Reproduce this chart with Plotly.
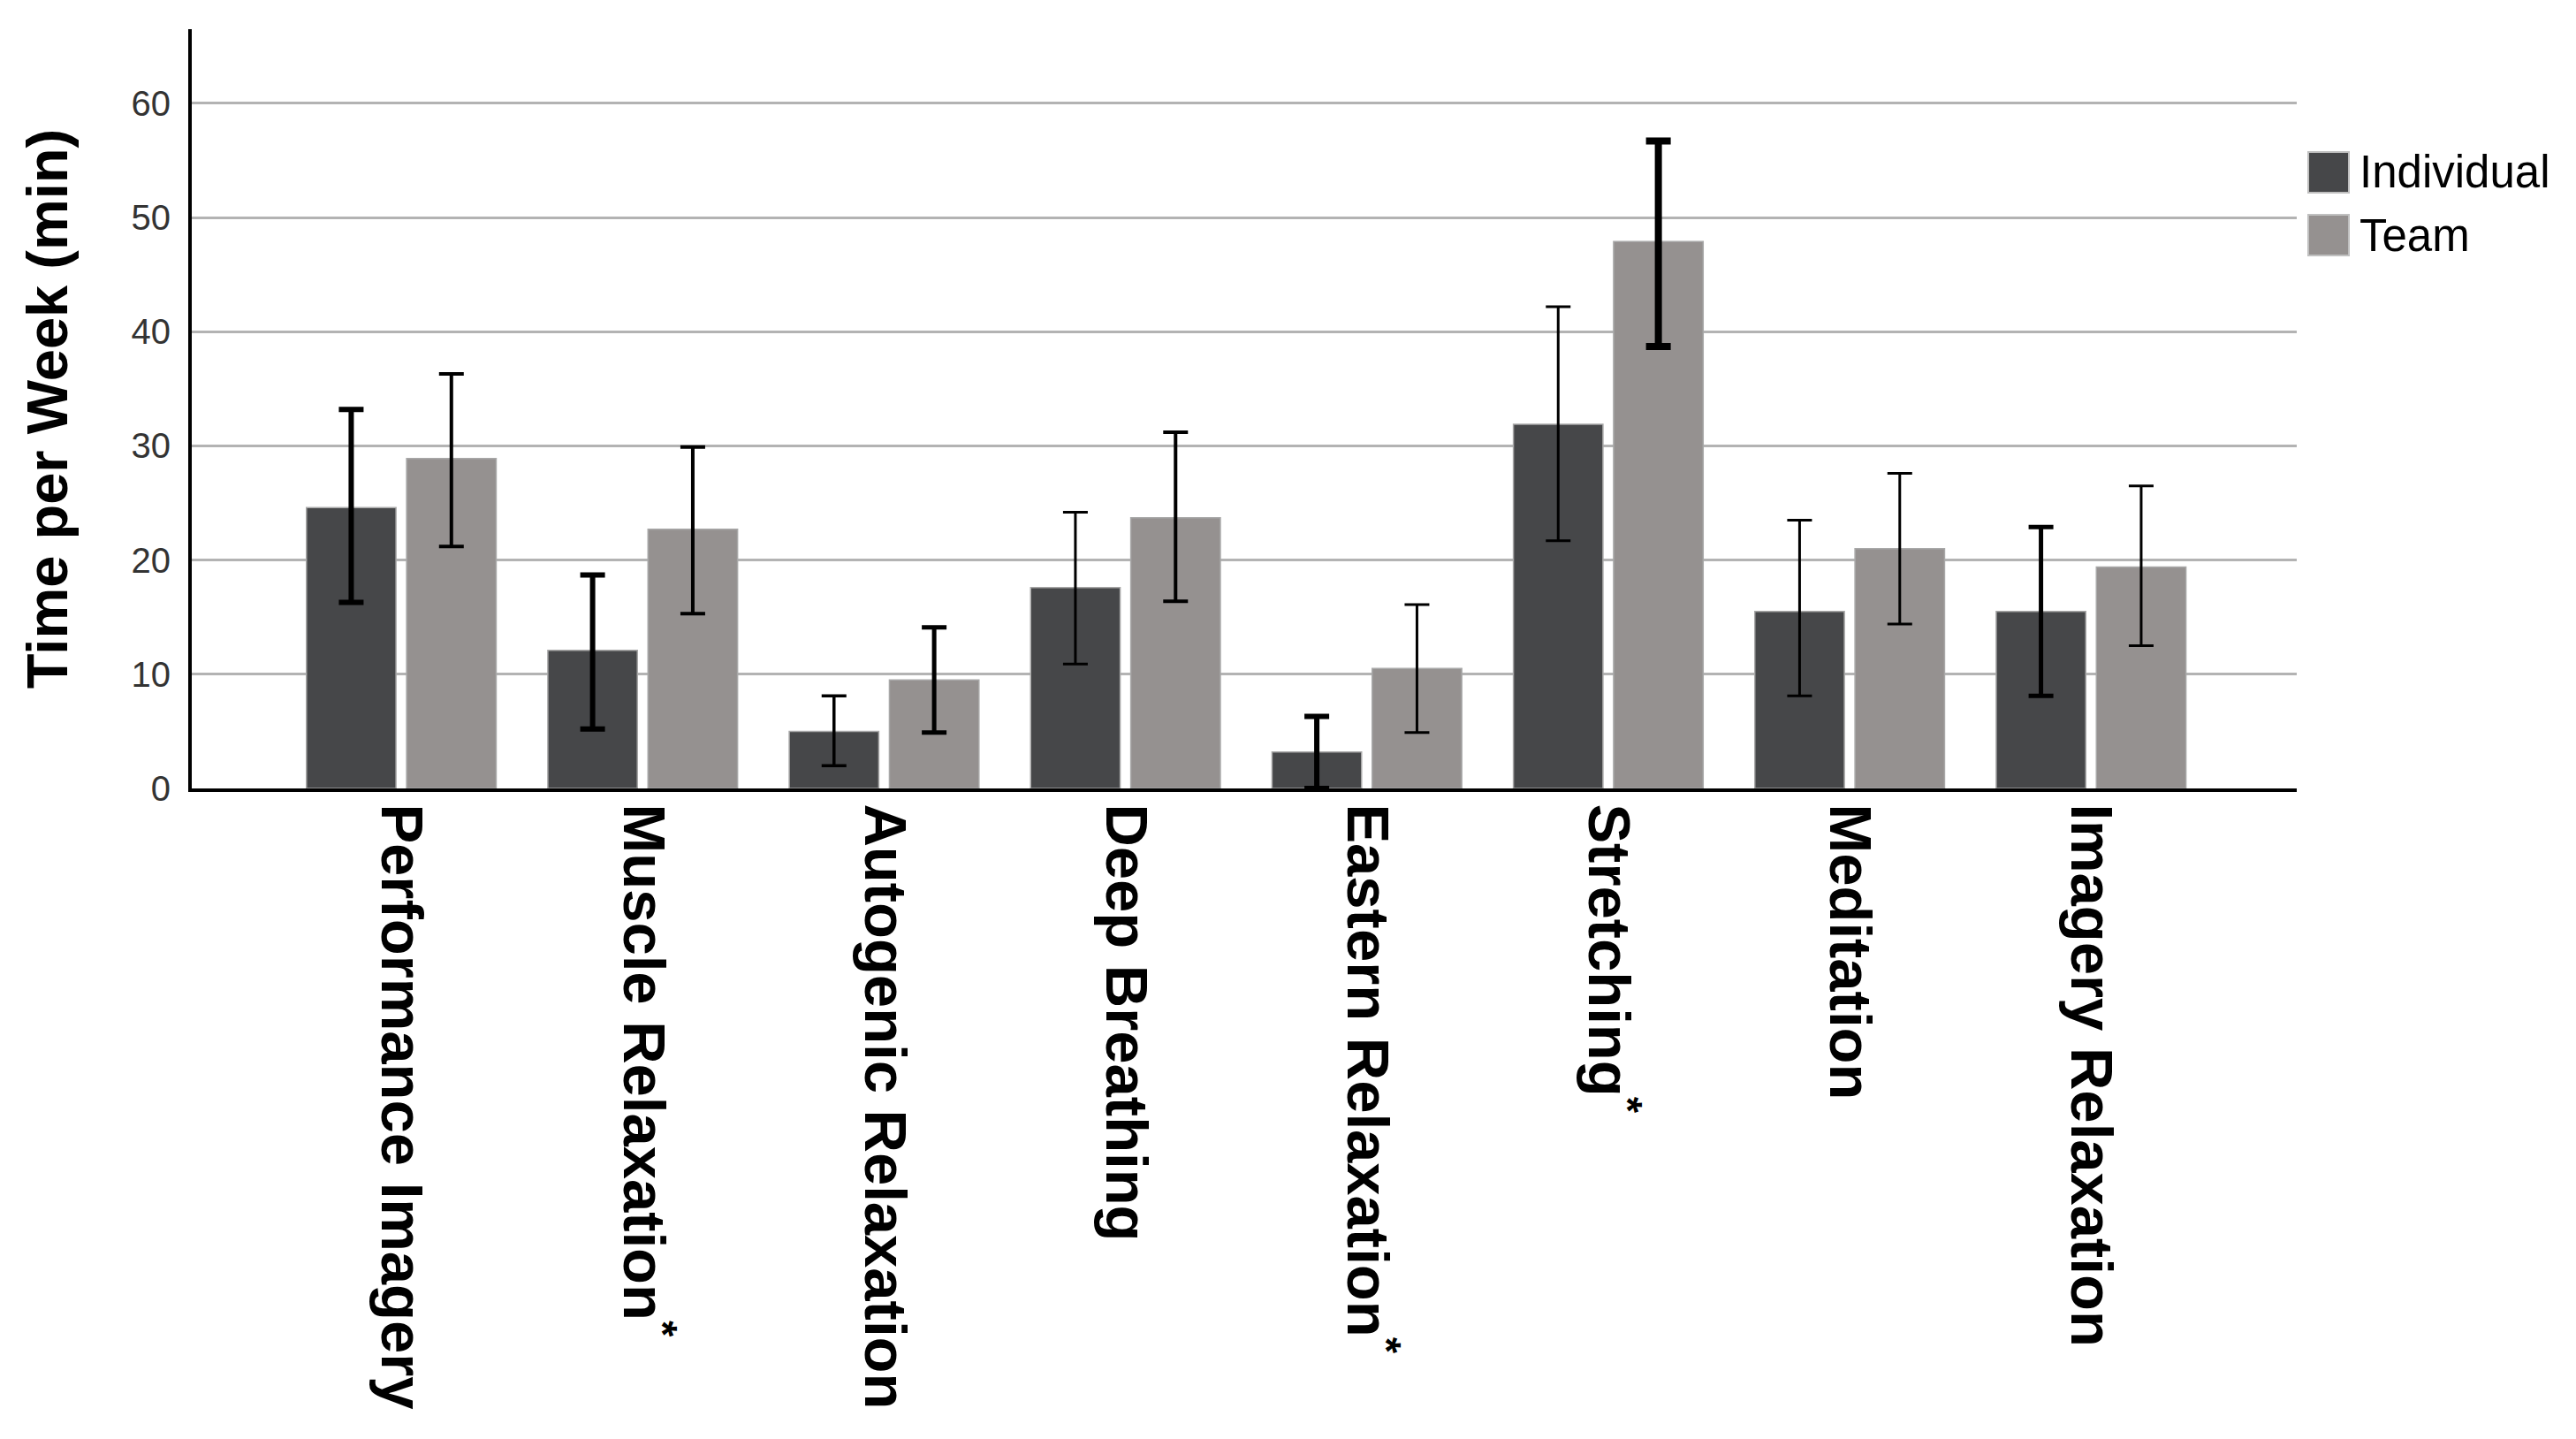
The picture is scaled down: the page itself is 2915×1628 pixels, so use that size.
import plotly.graph_objects as go

categories = ["Performance Imagery", "Muscle Relaxation<sup>*</sup>", "Autogenic Relaxation",
              "Deep Breathing", "Eastern Relaxation<sup>*</sup>", "Stretching<sup>*</sup>",
              "Meditation", "Imagery Relaxation"]
series_names = ["Individual", "Team"]
ind_mean = [24.6, 12.1, 5.0, 17.6, 3.2, 31.9, 15.5, 15.5]
ind_hi = [33.2, 18.7, 8.1, 24.2, 6.3, 42.2, 23.5, 22.9]
ind_lo = [16.3, 5.2, 2.0, 10.9, 0.0, 21.7, 8.1, 8.1]
team_mean = [28.9, 22.7, 9.5, 23.7, 10.5, 47.9, 21.0, 19.4]
team_hi = [36.3, 29.9, 14.1, 31.2, 16.1, 56.7, 27.6, 26.5]
team_lo = [21.2, 15.3, 4.9, 16.4, 4.9, 38.7, 14.4, 12.5]
y_ticks = [0, 10, 20, 30, 40, 50, 60]

# stroke weight of each error bar as drawn in the original
ind_err_weight = [6, 6, 3.5, 3, 6, 3, 3, 5]
team_err_weight = [4, 4, 5, 4, 3, 8, 3, 3]

colors = ["#464749", "#959190"]
FONT = "Liberation Sans, Arial, sans-serif"

# the page body adds an 8px offset, compensate in the margins
OFF = 8
L, R, T, B = 217 - OFF, 316 + OFF, 33 - OFF, 736 + OFF
W, H = 2915, 1628
pw, ph = W - L - R, H - T - B

fig = go.Figure()
for name, mean, hi, lo, weights, col in [
    (series_names[0], ind_mean, ind_hi, ind_lo, ind_err_weight, colors[0]),
    (series_names[1], team_mean, team_hi, team_lo, team_err_weight, colors[1]),
]:
    for w in sorted(set(weights)):
        sel = [wi == w for wi in weights]
        fig.add_trace(go.Bar(
            x=categories,
            y=[m if s else None for m, s in zip(mean, sel)],
            name=name, offsetgroup=name, legendgroup=name,
            marker=dict(color=col, line=dict(color="#a8a8a8", width=1.5)),
            error_y=dict(type="data", symmetric=False,
                         array=[(h - m) if s else None for h, m, s in zip(hi, mean, sel)],
                         arrayminus=[(m - l) if s else None for m, l, s in zip(mean, lo, sel)],
                         color="black", thickness=w, width=14),
            showlegend=False,
        ))

fig.update_layout(
    width=W, height=H,
    paper_bgcolor="white", plot_bgcolor="white",
    margin=dict(l=L, r=R, t=T, b=B),
    barmode="group", bargap=0.17, bargroupgap=0.106,
    font=dict(family=FONT, color="black"),
    xaxis=dict(
        range=[-0.868, 7.852], tickangle=90, automargin=False,
        tickfont=dict(size=67, family=FONT, color="black", weight="bold"),
        showline=True, linecolor="black", linewidth=4,
        ticks="", showgrid=False, ticklabelstandoff=0,
    ),
    yaxis=dict(
        range=[0, 66.5], tickvals=y_ticks, automargin=False,
        tickfont=dict(size=40, family=FONT, color="#333333"),
        showline=True, linecolor="black", linewidth=4,
        showgrid=True, gridcolor="#b3b3b3", gridwidth=3,
        zeroline=False, ticks="", ticklabelstandoff=12,
        title=dict(text="<b>Time per Week (min)</b>",
                   font=dict(size=65, family=FONT, color="black"), standoff=52),
    ),
)

# legend drawn as shapes + text
leg = [(series_names[0], colors[0], 195), (series_names[1], colors[1], 266)]
for name, col, yc in leg:
    fig.add_shape(type="rect", xref="paper", yref="paper",
                  x0=(2612 - 217) / pw, x1=(2658 - 217) / pw,
                  y0=(892 - (yc + 23)) / ph, y1=(892 - (yc - 23)) / ph,
                  fillcolor=col, line=dict(color="#c0c0c0", width=2))
    fig.add_annotation(xref="paper", yref="paper",
                       x=(2668 - 217) / pw, y=(892 - yc) / ph,
                       text=name, showarrow=False, xanchor="left", yanchor="middle",
                       font=dict(size=51, family=FONT, color="black"))

fig.write_html("out.html")
